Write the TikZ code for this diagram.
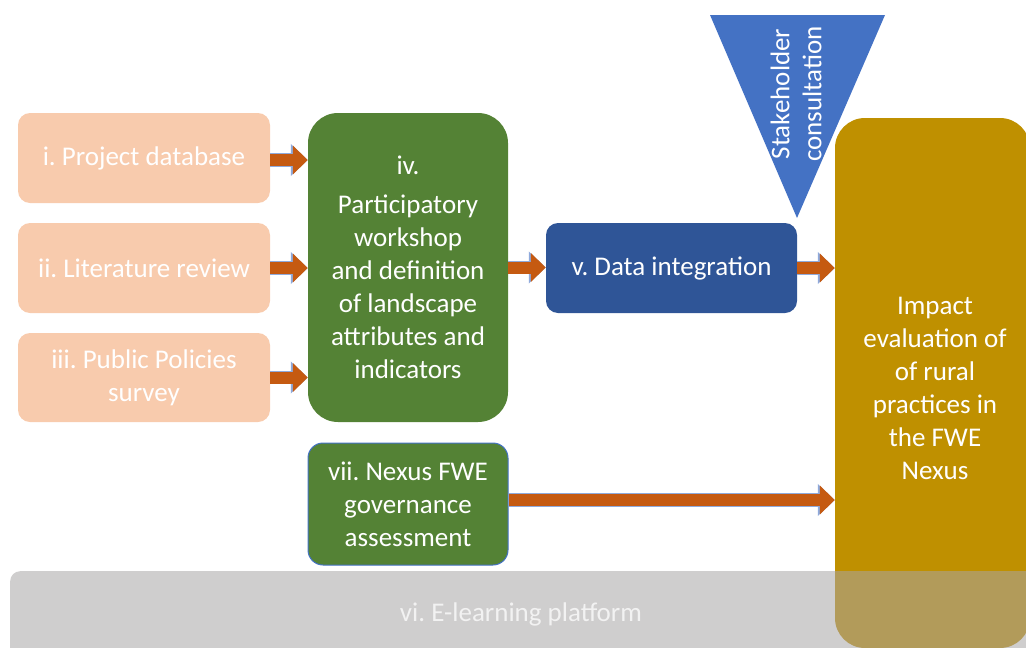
\documentclass[tikz,border=0pt]{standalone}
\usepackage{fontspec}
\setmainfont{Carlito}
\frenchspacing
\usetikzlibrary{arrows.meta,calc}
\definecolor{peach}{HTML}{F8CBAD}
\definecolor{leaf}{HTML}{548235}
\definecolor{navy}{HTML}{2F5597}
\definecolor{triblue}{HTML}{4472C4}
\definecolor{goldc}{HTML}{BF9000}
\definecolor{arrowc}{HTML}{C55A11}
\definecolor{arrowline}{HTML}{8FAADC}
\definecolor{barc}{RGB}{168,165,165}
\tikzset{
  box/.style={draw=none, rounded corners=#1, align=center, inner sep=0pt, text=white,
    font=\fontsize{27}{33}\selectfont},
  box/.default=12pt,
  barrow/.style={line width=12pt, draw=arrowc, -{Triangle[length=15pt,width=28pt,fill=arrowc]},
    preaction={draw=arrowline, line width=13.5pt, -{Triangle[length=17pt,width=31pt,fill=arrowline]}}},
}
\begin{document}
\begin{tikzpicture}[x=1pt,y=-1pt]
\frenchspacing
\useasboundingbox (0,0) rectangle (1026,648);
\clip (0,0) rectangle (1026,648);
% left boxes
\node[box, fill=peach, minimum width=252pt, minimum height=90pt] (i) at (144,158) {i. Project database};
\node[box, fill=peach, minimum width=252pt, minimum height=90pt] (ii) at (144,268) {ii. Literature review};
\node[box, fill=peach, minimum width=252pt, minimum height=89pt] (iii) at (144,377.5) {iii. Public Policies\\survey};
% green workshop
\node[box=30pt, fill=leaf, minimum width=200pt, minimum height=309pt] (iv) at (408,267.5) {};
\node[align=center, text=white, inner sep=0pt, font=\fontsize{27}{33}\selectfont] (ivt) at (408,267)
  {iv.\\[6pt]Participatory\\workshop\\and definition\\of landscape\\attributes and\\indicators};
% data integration
\node[box, fill=navy, minimum width=251pt, minimum height=90pt] (v) at (671.5,268) {v. Data integration};
% governance
\node[box=15pt, fill=leaf, draw=triblue, line width=1pt, minimum width=200pt, minimum height=122pt] (vii) at (408,504)
  {vii. Nexus FWE\\governance\\assessment};
% triangle
\coordinate (t1) at (710,15);
\coordinate (t2) at (885,15);
\coordinate (t3) at (797,218);
\fill[triblue] (t1) -- (t2) -- (t3) -- cycle;
\node[rotate=90, align=center, text=white, inner sep=0pt, font=\fontsize{27}{32}\selectfont] (sc) at (796,94) {Stakeholder\\consultation};
% gold box
\node[box=30pt, fill=goldc, minimum width=195pt, minimum height=530pt] (gold) at (932.5,383) {};
\node[align=center, text=white, inner sep=0pt, font=\fontsize{27}{33}\selectfont] (goldt) at (935,388)
  {Impact\\evaluation of\\of rural\\practices in\\the FWE\\Nexus};
% arrows
\draw[barrow] (i.east) ++(0,2) coordinate (ia) -- (ia -| iv.west);
\draw[barrow] (ii.east) -- (ii.east -| iv.west);
\draw[barrow] (iii.east) -- (iii.east -| iv.west);
\draw[barrow] (iv.east) -- (iv.east -| v.west);
\draw[barrow] (v.east) -- (v.east -| gold.west);
\draw[barrow] (vii.east) ++(0,-4) coordinate (va) -- (va -| gold.west);
% e-learning bar
\node[box=10pt, fill=barc, fill opacity=0.55, minimum width=1040pt, minimum height=90pt, anchor=north west] (vi) at (10,571) {};
\node[text=white!95!black, font=\fontsize{27}{33}\selectfont, inner sep=0pt] (vit) at (521,614) {vi. E-learning platform};
\end{tikzpicture}
\end{document}
